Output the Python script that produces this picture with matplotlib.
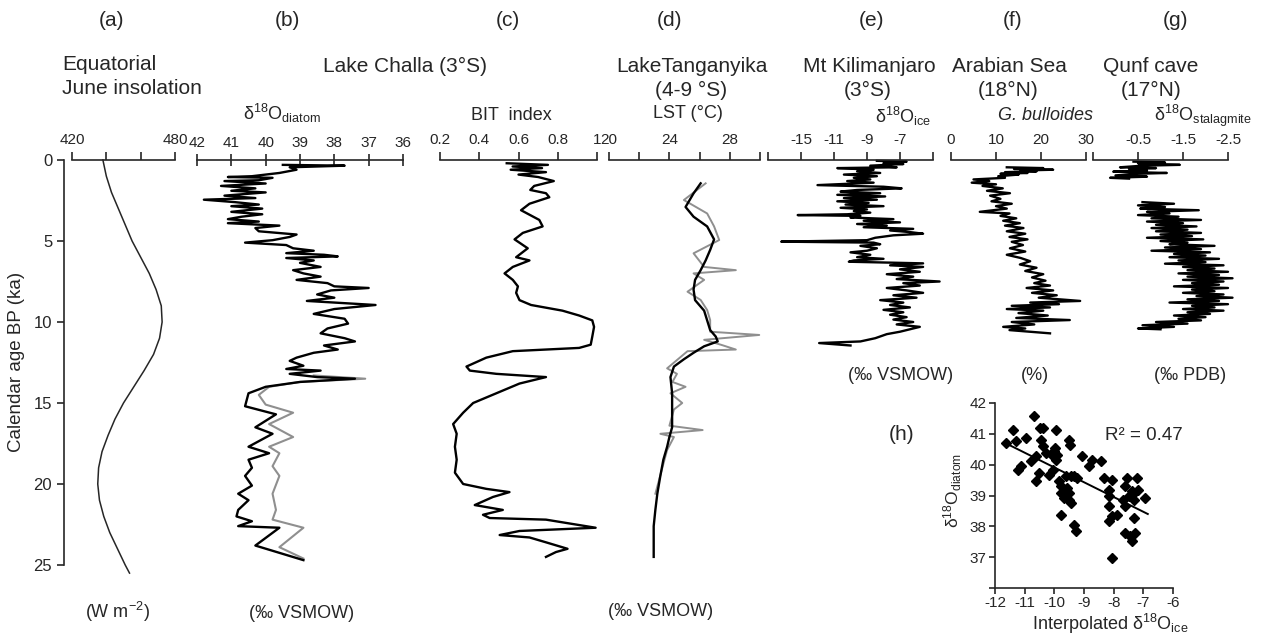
import matplotlib
matplotlib.use("Agg")
import matplotlib.pyplot as plt
import numpy as np

plt.rcParams['font.family'] = ['Liberation Sans', 'DejaVu Sans']
plt.rcParams['mathtext.fontset'] = 'custom'
plt.rcParams['mathtext.rm'] = 'Liberation Sans'
plt.rcParams['mathtext.it'] = 'Liberation Sans:italic'
plt.rcParams['axes.unicode_minus'] = False

W, H = 1261, 639
INK = '#262626'
GREY = '#8f8f8f'

# (a) equatorial June insolation (W m-2)
ins_age = [0, 1, 2, 3, 4, 5, 6, 7, 8, 9, 10, 11, 12, 13, 14, 15, 16, 17, 18, 19, 20, 21, 22, 23, 24, 25, 25.5]
ins_val = [438, 440, 443, 447, 451, 455, 460, 465, 469, 472, 472.5, 471, 467.5, 462, 456, 450, 445, 441,
           437.5, 435.5, 435, 436, 438.5, 442, 446.5, 451, 453.5]

# (b) Lake Challa d18O diatom, black and grey records
b_age = [0.3, 0.35, 0.45, 0.6, 0.8, 1.0, 1.05, 1.1, 1.25, 1.3, 1.45, 1.6, 1.75, 1.9, 2.0, 2.2, 2.35, 2.45,
         2.6, 2.75, 2.85, 3.0, 3.2, 3.35, 3.5, 3.65, 3.8, 3.9, 4.05, 4.2, 4.4, 4.6, 4.75, 4.95, 5.1, 5.25,
         5.45, 5.6, 5.75, 5.85, 5.95, 6.05, 6.2, 6.35, 6.6, 6.8, 7.0, 7.2, 7.4, 7.6, 7.8, 7.9, 8.05, 8.3,
         8.5, 8.7, 8.95, 9.2, 9.5, 9.8, 10.1, 10.4, 10.7, 11.0, 11.2, 11.45, 11.7, 11.9, 12.2, 12.4, 12.7,
         12.9, 13.0, 13.2, 13.4, 13.5, 13.7, 14.0, 14.4, 15.2, 15.7, 16.5, 16.9, 17.7, 18.1, 18.5, 19.0,
         19.5, 20.1, 20.6, 21.0, 21.6, 22.0, 22.3, 22.6, 22.7, 23.8, 24.7]
b_val = [39.5, 37.7, 39.3, 39.1, 39.6, 40.4, 41.1, 39.8, 40.2, 41.2, 40.0, 41.3, 40.3, 41.0, 40.0, 41.2,
         40.3, 41.8, 40.9, 40.2, 41.0, 40.1, 41.0, 40.1, 40.7, 41.1, 40.2, 41.1, 39.6, 40.3, 40.2, 39.1,
         39.3, 39.8, 40.6, 39.4, 39.2, 38.6, 39.4, 38.3, 37.9, 39.4, 38.6, 39.0, 38.4, 39.2, 38.9, 38.4,
         39.1, 38.2, 38.0, 37.0, 38.1, 38.5, 38.0, 38.8, 36.8, 38.0, 38.6, 37.7, 37.6, 38.2, 38.4, 37.7,
         37.4, 38.3, 37.9, 38.6, 39.1, 39.3, 38.9, 39.4, 38.4, 39.3, 38.5, 37.4, 39.0, 40.0, 40.5, 40.6,
         39.7, 40.3, 39.8, 40.5, 39.9, 40.5, 40.4, 40.6, 40.4, 40.8, 40.5, 40.8, 40.85, 40.4, 40.8, 39.6,
         40.3, 38.9]
b2_age = [13.3, 13.5, 13.7, 14.0, 14.5, 15.1, 15.6, 16.3, 17.1, 17.7, 18.1, 18.9, 19.5, 20.6, 21.6, 22.2,
          22.7, 23.9, 24.6]
b2_val = [38.6, 37.1, 39.0, 39.9, 40.2, 40.0, 39.2, 39.9, 39.2, 39.9, 39.6, 39.8, 39.6, 39.8, 39.7, 39.8,
          38.9, 39.6, 38.9]

# (c) BIT index
c_age = [0.2, 0.3, 0.4, 0.5, 0.6, 0.75, 0.9, 1.05, 1.3, 1.6, 1.85, 2.05, 2.3, 2.7, 3.1, 3.7, 4.1, 4.5,
         4.9, 5.45, 6.0, 6.2, 6.6, 7.0, 7.4, 7.8, 8.2, 8.65, 8.95, 9.3, 9.6, 9.9, 10.3, 10.9, 11.4, 11.6,
         11.8, 12.2, 12.75, 13.0, 13.2, 13.4, 13.8, 14.4, 15.0, 15.6, 16.3, 16.9, 17.7, 18.5, 19.3, 20.0,
         20.3, 20.5, 20.8, 21.3, 21.6, 21.9, 22.1, 22.2, 22.7, 22.9, 23.15, 23.3, 23.6, 24.0, 24.2, 24.5]
c_val = [0.54, 0.75, 0.57, 0.72, 0.56, 0.74, 0.60, 0.70, 0.78, 0.68, 0.66, 0.74, 0.757, 0.656, 0.613,
         0.706, 0.723, 0.622, 0.58, 0.647, 0.588, 0.656, 0.571, 0.529, 0.571, 0.597, 0.588, 0.605, 0.664,
         0.824, 0.909, 0.976, 0.985, 0.976, 0.968, 0.909, 0.571, 0.436, 0.335, 0.352, 0.487, 0.74, 0.605,
         0.487, 0.369, 0.318, 0.267, 0.285, 0.276, 0.285, 0.276, 0.318, 0.436, 0.554, 0.47, 0.377, 0.52,
         0.419, 0.453, 0.74, 0.993, 0.605, 0.504, 0.656, 0.74, 0.85, 0.791, 0.74]

# (d) Lake Tanganyika LST, black and grey records
d_age = [1.44, 2.06, 2.9, 3.5, 4.1, 4.9, 5.55, 6.2, 6.8, 7.4, 8.0, 8.65, 9.3, 9.9, 10.5, 10.9, 11.2, 11.5,
         11.9, 12.3, 12.75, 13.4, 14.4, 15.4, 16.5, 17.1, 17.7, 18.5, 19.5, 20.6, 21.6, 22.6, 24.5]
d_val = [26.07, 25.6, 25.07, 25.6, 26.5, 26.96, 26.7, 26.4, 26.07, 25.7, 25.6, 25.7, 26.3, 26.5, 26.7,
         27.07, 27.2, 26.3, 25.6, 24.96, 24.3, 24.07, 24.18, 24.18, 24.18, 24.0, 23.85, 23.6, 23.4, 23.2,
         23.07, 22.96, 22.96]
d2_age = [1.44, 2.47, 3.3, 4.1, 4.94, 5.76, 6.6, 6.8, 7.0, 7.4, 8.13, 8.64, 9.26, 9.88, 10.6, 10.8, 11.1,
          11.4, 11.7, 11.8, 12.35, 12.86, 13.2, 13.7, 14.0, 14.4, 15.0, 15.4, 16.4, 16.67, 16.9, 17.1,
          17.9, 20.6]
d2_val = [26.4, 24.96, 26.5, 26.96, 27.3, 25.6, 26.3, 28.4, 25.6, 26.3, 25.2, 26.07, 26.5, 26.7, 26.7,
          29.95, 26.3, 27.4, 28.4, 25.2, 24.5, 23.85, 24.5, 24.2, 25.07, 24.07, 24.85, 24.3, 24.0, 26.2,
          23.4, 24.3, 23.85, 23.07]

# (e) Mt Kilimanjaro d18O ice
e_age = [0.05, 0.1, 0.2, 0.25, 0.35, 0.45, 0.5, 0.6, 0.7, 0.8, 0.9, 1.0, 1.1, 1.2, 1.3, 1.4, 1.55, 1.65,
         1.75, 1.85, 1.95, 2.05, 2.15, 2.25, 2.35, 2.45, 2.55, 2.65, 2.75, 2.85, 2.95, 3.05, 3.15, 3.25,
         3.35, 3.4, 3.45, 3.55, 3.65, 3.75, 3.85, 3.95, 4.05, 4.15, 4.25, 4.35, 4.45, 4.55, 4.65, 4.8,
         4.95, 5.04, 5.1, 5.2, 5.3, 5.45, 5.6, 5.7, 5.85, 6.0, 6.1, 6.2, 6.28, 6.38, 6.5, 6.6, 6.75, 6.9,
         7.05, 7.2, 7.35, 7.5, 7.6, 7.75, 7.9, 8.05, 8.2, 8.35, 8.5, 8.65, 8.8, 8.95, 9.1, 9.25, 9.4, 9.55,
         9.7, 9.85, 10.0, 10.15, 10.3, 10.45, 10.6, 10.75, 11.0, 11.2, 11.3, 11.45]
e_val = [-8.4, -6.6, -8.0, -6.8, -8.8, -7.2, -10.8, -8.6, -9.6, -8.2, -10.4, -8.4, -9.8, -8.8, -10.2,
         -8.6, -12.0, -8.0, -6.9, -9.6, -10.6, -8.2, -10.8, -7.9, -10.4, -8.4, -10.8, -8.9, -10.3, -8.0,
         -10.6, -9.0, -9.8, -8.8, -10.2, -13.2, -9.4, -10.0, -7.4, -9.2, -7.0, -9.6, -7.8, -9.2, -6.2,
         -7.6, -6.4, -5.6, -7.4, -8.5, -9.0, -14.2, -8.6, -8.2, -9.4, -8.4, -9.0, -10.0, -8.8, -9.6, -8.0,
         -9.8, -10.1, -5.6, -7.6, -5.6, -7.0, -5.8, -7.8, -6.2, -7.2, -4.6, -6.8, -5.8, -7.8, -6.6, -5.6,
         -7.4, -6.0, -8.2, -6.8, -7.6, -6.4, -8.0, -6.8, -7.6, -6.6, -7.4, -6.2, -7.2, -5.8, -6.4, -7.0,
         -7.8, -8.5, -9.4, -11.9, -10.0]

# (f) Arabian Sea G. bulloides (%)
f_age = [0.45, 0.5, 0.55, 0.6, 0.65, 0.7, 0.75, 0.8, 0.85, 0.9, 1.0, 1.1, 1.2, 1.3, 1.4, 1.5, 1.6, 1.75,
         1.9, 2.05, 2.2, 2.4, 2.55, 2.7, 2.85, 3.0, 3.2, 3.3, 3.45, 3.6, 3.75, 3.9, 4.05, 4.2, 4.4, 4.55,
         4.75, 4.9, 5.05, 5.25, 5.45, 5.65, 5.85, 6.05, 6.25, 6.45, 6.65, 6.85, 7.05, 7.25, 7.45, 7.6,
         7.75, 7.9, 8.05, 8.2, 8.35, 8.5, 8.7, 8.8, 8.9, 9.0, 9.1, 9.2, 9.3, 9.45, 9.6, 9.75, 9.88, 10.0,
         10.15, 10.3, 10.4, 10.5, 10.7]
f_val = [12.4, 20.5, 14.0, 22.7, 15.5, 19.0, 12.0, 17.0, 11.0, 15.0, 10.5, 12.0, 5.0, 8.5, 4.6, 10.0, 7.0,
         11.5, 8.0, 13.1, 8.7, 11.0, 9.0, 13.5, 10.0, 12.4, 6.4, 13.0, 11.0, 14.5, 11.6, 15.3, 12.0, 16.1,
         12.4, 16.5, 13.0, 17.0, 13.5, 16.0, 13.1, 16.5, 12.4, 15.5, 17.6, 15.3, 19.0, 16.5, 20.5, 18.0,
         21.0, 18.5, 22.0, 16.8, 22.7, 18.0, 23.5, 19.5, 28.7, 17.6, 24.0, 13.5, 22.0, 12.4, 20.5, 15.0,
         21.5, 14.5, 26.4, 13.5, 18.5, 11.6, 16.5, 13.0, 22.0]

# (g) Qunf cave d18O stalagmite, two segments
g1_age = [0.1, 0.15, 0.2, 0.3, 0.35, 0.45, 0.5, 0.55, 0.65, 0.72, 0.8, 0.85, 0.95, 1.03, 1.1, 1.15]
g1_val = [-0.4, -1.1, -0.5, -1.43, -0.6, -0.1, -0.9, -0.3, -0.7, 0.05, -1.14, -0.5, 0.0, -0.7, 0.12, -0.3]
g2_age = [2.6, 2.7, 2.8, 2.9, 3.0, 3.1, 3.2, 3.3, 3.4, 3.5, 3.6, 3.7, 3.8, 3.9, 4.0, 4.1, 4.2, 4.3, 4.4,
          4.5, 4.6, 4.7, 4.8, 4.9, 5.0, 5.1, 5.2, 5.3, 5.4, 5.5, 5.6, 5.7, 5.8, 5.9, 6.0, 6.1, 6.2, 6.3,
          6.4, 6.5, 6.6, 6.7, 6.8, 6.9, 7.0, 7.1, 7.2, 7.3, 7.4, 7.5, 7.6, 7.7, 7.8, 7.9, 8.0, 8.1, 8.2,
          8.3, 8.4, 8.5, 8.6, 8.7, 8.8, 8.9, 9.0, 9.1, 9.2, 9.3, 9.4, 9.5, 9.6, 9.7, 9.8, 9.9, 10.0, 10.1,
          10.2, 10.3, 10.4, 10.45]
g2_val = [-0.6, -1.3, -0.5, -1.1, -0.55, -1.85, -0.7, -1.2, -0.5, -1.4, -0.8, -1.9, -0.7, -1.5, -0.9,
          -1.8, -0.8, -1.6, -0.9, -1.9, -1.0, -1.7, -0.7, -1.95, -1.0, -1.6, -1.2, -2.2, -1.1, -1.9, -0.8,
          -2.1, -1.3, -2.0, -1.2, -2.3, -1.4, -2.0, -1.1, -2.4, -1.5, -2.2, -1.6, -2.5, -1.4, -2.3, -1.6,
          -2.6, -1.5, -2.4, -1.7, -2.3, -1.3, -2.5, -1.7, -2.2, -1.5, -2.4, -1.8, -2.6, -1.6, -2.3, -1.2,
          -2.5, -1.7, -2.2, -1.5, -2.4, -1.6, -2.1, -1.3, -2.0, -1.4, -1.9, -0.9, -1.6, -0.6, -1.3, -0.5,
          -1.0]

# (h) interpolated d18O ice vs d18O diatom
h_x = [-11.63, -11.41, -11.30, -10.97, -11.22, -11.11, -10.78, -10.70, -10.50, -10.39, -10.61, -10.52,
       -10.61, -10.44, -10.39, -10.28, -10.06, -9.94, -9.97, -9.94, -10.17, -10.06, -9.83, -9.78, -9.78,
       -9.61, -9.56, -9.67, -9.50, -9.44, -9.50, -9.78, -9.50, -9.48, -9.33, -9.22, -9.33, -9.28, -9.06,
       -8.83, -8.72, -8.44, -9.44, -8.33, -8.06, -8.17, -8.17, -8.17, -8.17, -8.06, -7.89, -8.06, -7.56,
       -7.61, -7.50, -7.67, -7.61, -7.33, -7.33, -7.22, -7.17, -7.39, -7.33, -7.61, -7.44, -7.28, -7.39,
       -6.94, -10.0, -9.9]
h_y = [40.70, 41.14, 40.78, 40.86, 39.84, 39.97, 40.11, 41.57, 41.19, 41.19, 40.27, 39.73, 39.46, 40.81,
       40.59, 40.38, 40.27, 41.14, 40.54, 40.16, 39.68, 39.84, 39.46, 39.30, 39.08, 39.62, 39.24, 38.92,
       39.08, 39.62, 38.86, 38.38, 40.81, 40.65, 39.62, 39.57, 38.05, 37.84, 40.27, 39.95, 40.16, 40.11,
       38.76, 39.57, 39.51, 39.19, 38.97, 38.65, 38.16, 38.32, 38.38, 36.97, 39.57, 39.30, 38.97, 38.86,
       38.65, 39.08, 38.86, 39.57, 39.19, 39.14, 38.27, 37.78, 37.68, 37.78, 37.51, 38.92, 40.45, 40.3]
fit_x = [-11.65, -6.85]
fit_y = [40.70, 38.40]


fig = plt.figure(figsize=(W / 100, H / 100), dpi=100)


def px_axes(x0, x1, y0, y1):
    return fig.add_axes([x0 / W, 1 - y1 / H, (x1 - x0) / W, (y1 - y0) / H])


def ftext(x, y, s, size=14, ha='center', **kw):
    fig.text(x / W, 1 - y / H, s, ha=ha, va='center', fontsize=size, color=INK, **kw)


Y0, PXKA = 160, 16.2          # pixel row of age 0, pixels per ka
YBOT = Y0 + 26 * PXKA


def core_axes(x0, x1, xlim, ticks, labels, bounds, direction='out', length=6):
    ax = px_axes(x0, x1, Y0, YBOT)
    ax.set_xlim(*xlim)
    ax.set_ylim(26, 0)
    ax.patch.set_visible(False)
    for s in ['left', 'right', 'bottom']:
        ax.spines[s].set_visible(False)
    ax.spines['top'].set_bounds(*bounds)
    ax.spines['top'].set_color(INK)
    ax.spines['top'].set_linewidth(1.2)
    ax.xaxis.tick_top()
    ax.set_xticks(ticks)
    ax.set_xticklabels(labels)
    ax.tick_params(axis='x', direction=direction, length=length, width=1.2, pad=3,
                   labelsize=11, color=INK, labelcolor=INK)
    ax.set_yticks([])
    return ax


# (a)
xa_left = 420 - (72 - 64) * 60 / 103
ax = core_axes(64, 175, (xa_left, 480), [420, 440, 460, 480], ['420', '', '', '480'], (420, 480))
ax.spines['left'].set_visible(True)
ax.spines['left'].set_bounds(0, 25)
ax.spines['left'].set_color(INK)
ax.spines['left'].set_linewidth(1.2)
ax.set_yticks([0, 5, 10, 15, 20, 25])
ax.tick_params(axis='y', direction='out', length=5, width=1.2, labelsize=12, color=INK, labelcolor=INK)
ax.plot(ins_val, ins_age, color=INK, lw=1.1, clip_on=False)

# (b)
ax = core_axes(197, 403, (42, 36), [42, 41, 40, 39, 38, 37, 36], ['42', '41', '40', '39', '38', '37', '36'],
               (42, 36), direction='inout', length=9)
ax.plot(b2_val, b2_age, color=GREY, lw=1.5, clip_on=False)
ax.plot(b_val, b_age, color='black', lw=1.7, clip_on=False)

# (c)
ax = core_axes(440, 597, (0.2, 1.0), [0.2, 0.4, 0.6, 0.8, 1.0], ['0.2', '0.4', '0.6', '0.8', '1'], (0.2, 1.0))
ax.plot(c_val, c_age, color='black', lw=1.7, clip_on=False)

# (d)
ax = core_axes(609, 760, (20, 30), [20, 22, 24, 26, 28, 30], ['20', '', '24', '', '28', ''], (20, 30))
ax.plot(d2_val, d2_age, color=GREY, lw=1.4, clip_on=False)
ax.plot(d_val, d_age, color='black', lw=1.7, clip_on=False)

# (e)
ax = core_axes(768, 933, (-15, -5), [-15, -13, -11, -9, -7, -5], ['', '-15', '-11', '-9', '-7', ''], (-15, -5))
ax.plot(e_val, e_age, color='black', lw=1.7, clip_on=False)

# (f)
ax = core_axes(951, 1086, (0, 30), [0, 10, 20, 30], ['0', '10', '20', '30'], (0, 30))
ax.plot(f_val, f_age, color='black', lw=1.7, clip_on=False)

# (g)
ax = core_axes(1093, 1228, (0.5, -2.5), [0.5, -0.5, -1.5, -2.5], ['', '-0.5', '-1.5', '-2.5'], (0.5, -2.5))
ax.plot(g1_val, g1_age, color='black', lw=1.7, clip_on=False)
ax.plot(g2_val, g2_age, color='black', lw=1.7, clip_on=False)

# (h) scatter
ax = px_axes(995, 1173, 403, 588)
ax.set_xlim(-12, -6)
ax.set_ylim(36, 42)
ax.patch.set_visible(False)
for s in ['top', 'right']:
    ax.spines[s].set_visible(False)
for s in ['left', 'bottom']:
    ax.spines[s].set_color(INK)
    ax.spines[s].set_linewidth(1.2)
ax.set_xticks(np.arange(-12, -5))
ax.set_yticks(np.arange(36, 43))
ax.set_yticklabels(['', '37', '38', '39', '40', '41', '42'])
ax.tick_params(direction='out', length=4, width=1.2, pad=2, labelsize=11, color=INK, labelcolor=INK)
ax.plot(h_x, h_y, 'D', color='black', ms=5, clip_on=False)
ax.plot(fit_x, fit_y, color='black', lw=1.4)

# labels
ftext(17, 362, 'Calendar age BP (ka)', size=13.5, rotation=90)
for x, s in [(112, '(a)'), (287, '(b)'), (508, '(c)'), (670, '(d)'), (871, '(e)'), (1013, '(f)'), (1175, '(g)')]:
    ftext(x, 21, s, size=15)
ftext(62, 65, 'Equatorial', size=15, ha='left')
ftext(62, 88, 'June insolation', size=15, ha='left')
ftext(405, 66, 'Lake Challa (3°S)', size=15)
ftext(692, 66, 'LakeTanganyika', size=15)
ftext(691, 90, '(4-9 °S)', size=15)
ftext(869, 66, 'Mt Kilimanjaro', size=15)
ftext(868, 90, '(3°S)', size=15)
ftext(1009, 66, 'Arabian Sea', size=15)
ftext(1008, 90, '(18°N)', size=15)
ftext(1151, 66, 'Qunf cave', size=15)
ftext(1151, 90, '(17°N)', size=15)

ftext(282, 113, r'δ$^{18}$O$_{\mathrm{diatom}}$', size=13)
ftext(511, 116, 'BIT  index', size=13)
ftext(688, 114, 'LST (°C)', size=13)
ftext(903, 116, r'δ$^{18}$O$_{\mathrm{ice}}$', size=13)
ftext(1045, 116, 'G. bulloides', size=13, style='italic')
ftext(1203, 116, r'δ$^{18}$O$_{\mathrm{stalagmite}}$', size=13)

ftext(117, 612, r'(W m$^{-2}$)', size=13)
ftext(302, 614, '(‰ VSMOW)', size=13)
ftext(661, 612, '(‰ VSMOW)', size=13)
ftext(901, 375, '(‰ VSMOW)', size=13)
ftext(1035, 375, '(%)', size=13)
ftext(1190, 375, '(‰ PDB)', size=13)

ftext(902, 435, '(h)', size=15)
ftext(1144, 435, 'R² = 0.47', size=13.5)
ftext(953, 490, r'δ$^{18}$O$_{\mathrm{diatom}}$', size=12.5, rotation=90)
ftext(1110, 624, r'Interpolated δ$^{18}$O$_{\mathrm{ice}}$', size=13)

fig.savefig('out.png', dpi=100)
